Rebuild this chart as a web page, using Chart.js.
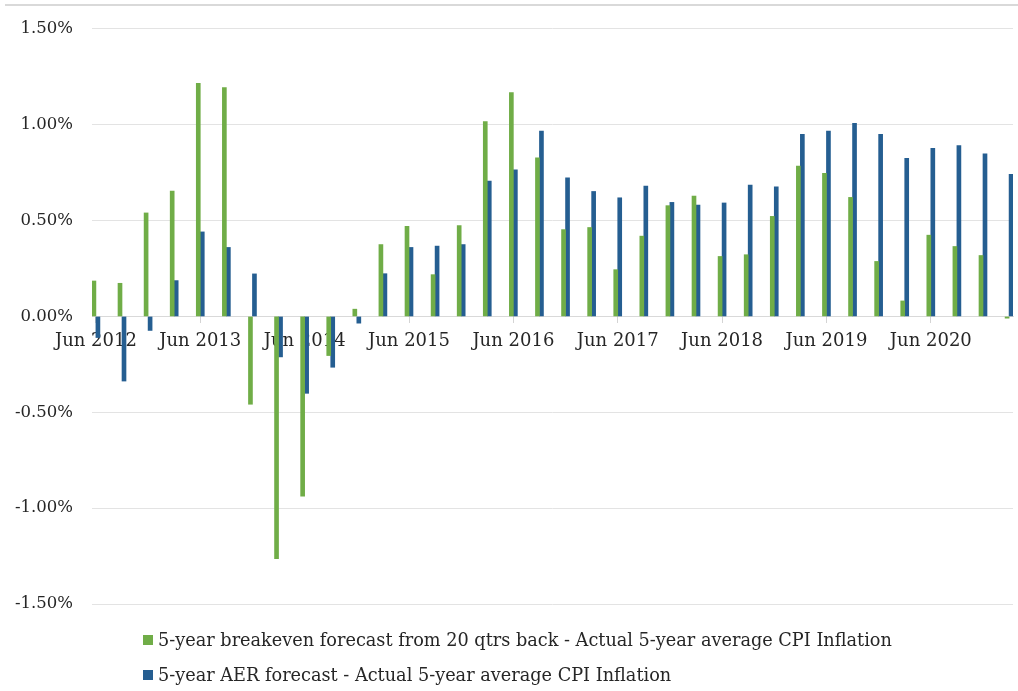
<!DOCTYPE html>
<html>
<head>
<meta charset="utf-8">
<script src="https://cdn.jsdelivr.net/npm/chart.js@4/dist/chart.umd.min.js"></script>
<style>
  html, body { margin: 0; padding: 0; background: #ffffff; }
  #wrap { position: relative; width: 1018px; height: 691px; overflow: hidden; }
  #frame-top { position: absolute; left: 5px; right: 0; top: 4px; border-top: 2px solid #d9d9d9; }
  #legend { position: absolute; left: 143px; top: 622px; font-family: "DejaVu Serif", Georgia, serif; font-size: 17.7px; color: #262626; }
  .item { display: flex; align-items: center; height: 35px; white-space: nowrap; }
  .swatch { width: 10px; height: 10px; margin-right: 5px; flex: none; }
</style>
</head>
<body>
<div id="wrap">
  <canvas id="chart" width="1018" height="691"></canvas>
  <div id="frame-top"></div>
  <div id="legend"></div>
</div>
<script>
// Quarter-end dates for each pair of bars
const categories = [
  'Jun 2012', 'Sep 2012', 'Dec 2012', 'Mar 2013',
  'Jun 2013', 'Sep 2013', 'Dec 2013', 'Mar 2014',
  'Jun 2014', 'Sep 2014', 'Dec 2014', 'Mar 2015',
  'Jun 2015', 'Sep 2015', 'Dec 2015', 'Mar 2016',
  'Jun 2016', 'Sep 2016', 'Dec 2016', 'Mar 2017',
  'Jun 2017', 'Sep 2017', 'Dec 2017', 'Mar 2018',
  'Jun 2018', 'Sep 2018', 'Dec 2018', 'Mar 2019',
  'Jun 2019', 'Sep 2019', 'Dec 2019', 'Mar 2020',
  'Jun 2020', 'Sep 2020', 'Dec 2020', 'Mar 2021'
];

// Only the June quarters carry an axis label
const tickLabels = [
  'Jun 2012', 'Jun 2013', 'Jun 2014', 'Jun 2015', 'Jun 2016',
  'Jun 2017', 'Jun 2018', 'Jun 2019', 'Jun 2020'
];

// Forecast error, percentage points
const breakeven = [
  0.185, 0.173, 0.54, 0.654, 1.216, 1.194, -0.458, -1.263, -0.938, -0.204,
  0.038, 0.375, 0.47, 0.218, 0.474, 1.017, 1.168, 0.827, 0.453, 0.464,
  0.244, 0.419, 0.578, 0.628, 0.313, 0.322, 0.522, 0.784, 0.746, 0.621,
  0.287, 0.081, 0.424, 0.365, 0.318, -0.009
];

const aer = [
  -0.11, -0.337, -0.073, 0.187, 0.441, 0.36, 0.222, -0.211, -0.401, -0.265,
  -0.035, 0.223, 0.36, 0.367, 0.375, 0.706, 0.765, 0.967, 0.723, 0.652,
  0.619, 0.68, 0.595, 0.581, 0.592, 0.685, 0.676, 0.95, 0.967, 1.007,
  0.95, 0.825, 0.877, 0.891, 0.848, 0.741
];

const seriesNames = [
  '5-year breakeven forecast from 20 qtrs back - Actual 5-year average CPI Inflation',
  '5-year AER forecast - Actual 5-year average CPI Inflation'
];
const seriesColors = ['#70ad47', '#255e91'];

const FONT = '"DejaVu Serif", Georgia, serif';
const GRID = '#e3e3e3';

const toPoints = arr => arr.map((v, i) => ({ x: i, y: v }));

const chart = new Chart(document.getElementById('chart'), {
  type: 'bar',
  data: {
    datasets: [
      { label: seriesNames[0], data: toPoints(breakeven), backgroundColor: seriesColors[0], barThickness: 4 },
      { label: seriesNames[1], data: toPoints(aer), backgroundColor: seriesColors[1], barThickness: 4 }
    ]
  },
  options: {
    responsive: false,
    animation: false,
    layout: { padding: { top: 25, right: 5, bottom: 87, left: 0 } },
    plugins: {
      legend: { display: false },
      tooltip: { enabled: false }
    },
    scales: {
      x: {
        type: 'linear',
        position: { y: 0 },
        offset: false,
        min: -0.15,
        max: categories.length - 1 + 0.15,
        afterBuildTicks: scale => {
          scale.ticks = categories
            .map((c, i) => ({ c, i }))
            .filter(o => tickLabels.includes(o.c))
            .map(o => ({ value: o.i }));
        },
        ticks: {
          autoSkip: false,
          maxRotation: 0,
          padding: 8,
          color: '#262626',
          font: { family: FONT, size: 18 },
          callback: v => categories[v]
        },
        grid: { offset: false, drawOnChartArea: false, drawTicks: true, tickLength: 6, color: '#d4d4d4' },
        border: { display: true, color: '#d9d9d9', width: 1 }
      },
      y: {
        min: -1.5,
        max: 1.5,
        afterFit: scale => { scale.width = 92; },
        ticks: {
          stepSize: 0.5,
          padding: 19,
          color: '#262626',
          font: { family: FONT, size: 16.5 },
          callback: v => v.toFixed(2) + '%'
        },
        grid: { color: GRID, drawTicks: false, lineWidth: 1 },
        border: { display: false }
      }
    }
  }
});

// Legend rows beneath the plot
const legend = document.getElementById('legend');
seriesNames.forEach((name, i) => {
  const row = document.createElement('div');
  row.className = 'item';
  const sw = document.createElement('span');
  sw.className = 'swatch';
  sw.style.background = seriesColors[i];
  const txt = document.createElement('span');
  txt.textContent = name;
  row.appendChild(sw);
  row.appendChild(txt);
  legend.appendChild(row);
});
</script>
</body>
</html>
